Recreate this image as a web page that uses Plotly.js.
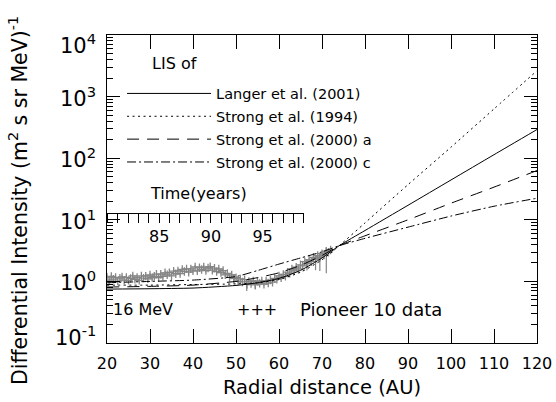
<!DOCTYPE html>
<html><head><meta charset="utf-8">
<script src="https://cdn.plot.ly/plotly-3.0.1.min.js"></script>
<style>html,body{margin:0;padding:0;background:#fff}#chart{width:556px;height:402px}</style>
</head><body><div id="chart"></div>
<script>
// Model curves: LIS of 16 MeV particles vs radial distance (AU)
const modelDistance = [20,30,40,50,55,60,65,70,74,80,90,100,110,120];
const langer2001   = [0.75,0.76,0.78,0.86,0.95,1.12,1.51,2.40,3.80,6.70,17.2,44.3,114,292];
const strong1994   = [0.87,0.87,0.89,0.91,0.95,1.07,1.41,2.24,3.80,8.9,37.2,151,631,2630];
const strong2000a  = [0.81,0.83,0.87,1.00,1.15,1.38,1.82,2.63,3.80,5.5,10.0,18.6,33.9,63.1];
const strong2000c  = [0.95,1.00,1.05,1.20,1.50,1.91,2.40,3.02,3.80,5.0,7.6,11.5,16.6,22.4];

// Pioneer 10 data (16 MeV)
const pioneerDistance = [20,20.5,21,21.5,22,22.5,23,23.5,24,24.5,25,25.5,26,26.5,27,27.5,28,28.5,29,29.5,30,30.5,31,31.5,32,32.5,33,33.5,34,34.5,35,35.5,36,36.5,37,37.5,38,38.5,39,39.5,40,40.5,41,41.5,42,42.5,43,43.5,44,44.5,45,45.5,46,46.5,47,47.5,48,48.5,49,49.5,50,50.5,51,51.5,52,52.5,53,53.5,54,54.5,55,55.5,56,56.5,57,57.5,58,58.5,59,59.5,60,60.5,61,61.5,62,62.5,63,63.5,64,64.5,65,65.5,66,66.5,67,67.5,68,68.5,69,69.5,70,70.5,71,71.5,72];
const pioneerFlux = [1.17,1.05,1.2,1.09,1.16,1.01,1.13,1.18,1.05,1.16,1.04,1.12,1.23,1.08,1.16,1.04,1.23,1.13,1.22,1.1,1.27,1.15,1.21,1.31,1.15,1.31,1.21,1.38,1.28,1.39,1.23,1.47,1.33,1.48,1.34,1.56,1.45,1.6,1.41,1.6,1.48,1.72,1.48,1.67,1.56,1.72,1.5,1.65,1.74,1.52,1.64,1.44,1.59,1.39,1.5,1.28,1.35,1.16,1.27,1.12,1.15,1.0,1.1,0.98,1.07,0.9,1.0,0.92,1.02,0.89,1.0,0.93,1.02,0.9,1.02,0.94,1.05,0.97,1.12,1.08,1.23,1.14,1.3,1.21,1.41,1.35,1.59,1.48,1.7,1.59,1.86,1.78,2.09,1.95,2.24,2.09,2.46,2.32,2.63,2.48,2.82,2.68,3.06,2.97,3.24];
// Points with large error bars
const pioneerBarDistance = [49.5,52.5,54.5,66.5,68.5,69.5,71.0];
const pioneerBarFlux     = [1.12,0.90,0.89,1.95,2.32,2.48,3.06];
const pioneerBarLow      = [0.20,0.20,0.15,0.45,0.80,1.00,1.70];
const pioneerBarHigh     = [0.10,0.10,0.10,0.30,0.30,0.30,0.30];

// Axis tick labels
const xTicks = [20,30,40,50,60,70,80,90,100,110,120];
const yTickVals = [0.1,1,10,100,1000,10000];
const yTickText = ['10<sup>-1</sup>','10<sup>0</sup>','10<sup>1</sup>','10<sup>2</sup>','10<sup>3</sup>','10<sup>4</sup>'];
const yearTickVals = [85,90,95];
const yearTickText = ['85','90','95'];
const yearMinor = [80,81,82,83,84,85,86,87,88,89,90,91,92,93,94,95,96,97,98,99];

const FONT = 'DejaVu Sans, sans-serif';
const GRAY = '#858585';

const yMinor = [];
for (let d = -1; d <= 3; d++) for (let k = 2; k <= 9; k++) yMinor.push(k * Math.pow(10, d));

// y tick labels as annotations so end labels can be nudged inside the frame (as in the original)
const yLabelAnnotations = yTickVals.map((v, i) => ({
  text: yTickText[i], xref:'paper', yref:'y', x:-0.022, y: Math.log10(v),
  xanchor:'right', yanchor:'middle', showarrow:false, font:{size:21, family:FONT},
  yshift: i === yTickVals.length - 1 ? -9 : (i === 0 ? 7 : 0)
}));

const lineBase = {type:'scatter', mode:'lines', x: modelDistance, line:{color:'#000', width:1, shape:'spline', smoothing:0.6}};

const traces = [
  {type:'scatter', mode:'markers', x: pioneerDistance, y: pioneerFlux, showlegend:false,
   marker:{symbol:'cross-thin', size:6, line:{color:GRAY, width:1.3}, color:GRAY},
   error_y:{type:'percent', value:7, color:GRAY, thickness:1, width:0}},
  {type:'scatter', mode:'markers', x: pioneerBarDistance, y: pioneerBarFlux, showlegend:false,
   marker:{symbol:'cross-thin', size:6, line:{color:GRAY, width:1.3}, color:GRAY},
   error_y:{type:'data', symmetric:false, array: pioneerBarHigh, arrayminus: pioneerBarLow, color:GRAY, thickness:1.2, width:0}},
  Object.assign({}, lineBase, {y: langer2001, name:'Langer et al. (2001)', legendgroup:'a', line:Object.assign({}, lineBase.line, {dash:'solid'})}),
  Object.assign({}, lineBase, {y: strong1994, name:'Strong et al. (1994)', legendgroup:'b', line:Object.assign({}, lineBase.line, {dash:'2px,3.5px'})}),
  Object.assign({}, lineBase, {y: strong2000a, name:'Strong et al. (2000) a', legendgroup:'c', line:Object.assign({}, lineBase.line, {dash:'12px,8px'})}),
  Object.assign({}, lineBase, {y: strong2000c, name:'Strong et al. (2000) c', legendgroup:'d', line:Object.assign({}, lineBase.line, {dash:'9px,3px,2px,3px'})}),
  {type:'scatter', mode:'markers', x:[], y:[], xaxis:'x2', yaxis:'y', showlegend:false, hoverinfo:'skip'}
];

const layout = {
  width:556, height:402,
  margin:{l:107, r:19, t:35, b:59},
  paper_bgcolor:'#fff', plot_bgcolor:'rgba(0,0,0,0)',
  font:{family:FONT, color:'#000'},
  showlegend:true,
  xaxis:{
    range:[20,120], tickvals:xTicks, ticks:'inside', ticklen:14, tickcolor:'#000',
    showline:true, linecolor:'#000', linewidth:1, mirror:'ticks',
    showgrid:false, zeroline:false, tickfont:{size:16, family:FONT}, ticklabelstandoff:6,
    title:{text:'Radial distance (AU)', font:{size:19.5, family:FONT}, standoff:8}
  },
  yaxis:{
    type:'log', range:[-1,4], tickmode:'array', tickvals:yTickVals, ticktext:yTickText,
    showticklabels:false,
    ticks:'inside', ticklen:13, tickcolor:'#000',
    minor:{tickmode:'array', tickvals:yMinor, ticks:'inside', ticklen:6, tickcolor:'#000', showgrid:false},
    showline:true, linecolor:'#000', linewidth:1, mirror:'ticks',
    showgrid:false, zeroline:false, tickfont:{size:21, family:FONT}
  },
  xaxis2:{
    domain:[0,0.458], range:[79.94,99.0], anchor:'free', position:0.422,
    showline:true, linecolor:'#000', linewidth:1,
    tickmode:'array', tickvals:yearTickVals, ticktext:yearTickText,
    ticks:'outside', ticklen:9, tickcolor:'#000',
    minor:{tickmode:'array', tickvals:yearMinor, ticks:'outside', ticklen:9, tickcolor:'#000', showgrid:false},
    showgrid:false, zeroline:false, tickfont:{size:16, family:FONT}
  },
  legend:{
    x:0.035, y:0.862, xanchor:'left', yanchor:'top',
    bgcolor:'rgba(0,0,0,0)', borderwidth:0,
    font:{size:14.5, family:FONT}, itemwidth:84, tracegroupgap:1
  },
  annotations: yLabelAnnotations.concat([
    {text:'Differential Intensity (m<sup>2</sup> s sr MeV)<sup>-1</sup>', xref:'paper', yref:'paper', x:-0.207, y:0.464,
     xanchor:'center', yanchor:'middle', textangle:-90, showarrow:false, font:{size:20.5, family:FONT}},
    {text:'LIS of', xref:'paper', yref:'paper', x:0.1, y:0.909, xanchor:'left', yanchor:'middle', showarrow:false, font:{size:16, family:FONT}},
    {text:'Time(years)', xref:'paper', yref:'paper', x:0.212, y:0.484, xanchor:'center', yanchor:'middle', showarrow:false, font:{size:16, family:FONT}},
    {text:'16 MeV', xref:'paper', yref:'paper', x:0.009, y:0.11, xanchor:'left', yanchor:'middle', showarrow:false, font:{size:16, family:FONT}},
    {text:'+++', xref:'paper', yref:'paper', x:0.348, y:0.11, xanchor:'center', yanchor:'middle', showarrow:false, font:{size:16, family:FONT}},
    {text:'Pioneer 10 data', xref:'paper', yref:'paper', x:0.444, y:0.11, xanchor:'left', yanchor:'middle', showarrow:false, font:{size:18, family:FONT}}
  ])
};

Plotly.newPlot('chart', traces, layout, {displayModeBar:false, staticPlot:true});
</script>
</body></html>
